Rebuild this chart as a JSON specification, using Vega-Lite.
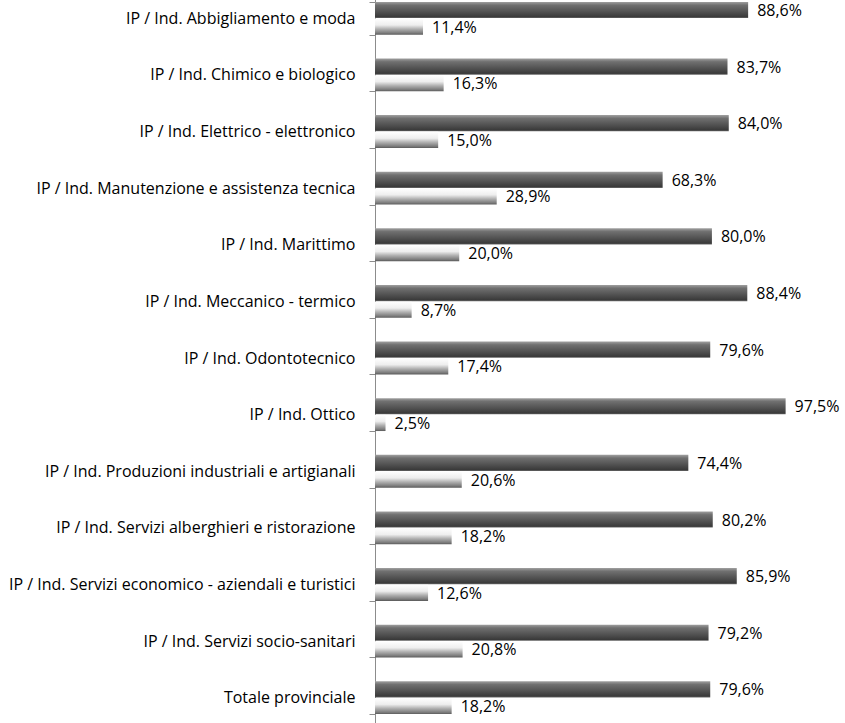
{
  "$schema": "https://vega.github.io/schema/vega-lite/v6.json",
  "width": 470,
  "height": 736,
  "autosize": {"type": "none"},
  "padding": {"left": 375, "top": -10, "right": 0, "bottom": 0},
  "background": "white",
  "config": {"view": {"stroke": null}},
  "data": {"values": [
    {"cat": "IP / Ind. Abbigliamento e moda", "s": "a", "v": 88.6},
    {"cat": "IP / Ind. Abbigliamento e moda", "s": "b", "v": 11.4},
    {"cat": "IP / Ind. Chimico e biologico", "s": "a", "v": 83.7},
    {"cat": "IP / Ind. Chimico e biologico", "s": "b", "v": 16.3},
    {"cat": "IP / Ind. Elettrico - elettronico", "s": "a", "v": 84.0},
    {"cat": "IP / Ind. Elettrico - elettronico", "s": "b", "v": 15.0},
    {"cat": "IP / Ind. Manutenzione e assistenza tecnica", "s": "a", "v": 68.3},
    {"cat": "IP / Ind. Manutenzione e assistenza tecnica", "s": "b", "v": 28.9},
    {"cat": "IP / Ind. Marittimo", "s": "a", "v": 80.0},
    {"cat": "IP / Ind. Marittimo", "s": "b", "v": 20.0},
    {"cat": "IP / Ind. Meccanico - termico", "s": "a", "v": 88.4},
    {"cat": "IP / Ind. Meccanico - termico", "s": "b", "v": 8.7},
    {"cat": "IP / Ind. Odontotecnico", "s": "a", "v": 79.6},
    {"cat": "IP / Ind. Odontotecnico", "s": "b", "v": 17.4},
    {"cat": "IP / Ind. Ottico", "s": "a", "v": 97.5},
    {"cat": "IP / Ind. Ottico", "s": "b", "v": 2.5},
    {"cat": "IP / Ind. Produzioni industriali e artigianali", "s": "a", "v": 74.4},
    {"cat": "IP / Ind. Produzioni industriali e artigianali", "s": "b", "v": 20.6},
    {"cat": "IP / Ind. Servizi alberghieri e ristorazione", "s": "a", "v": 80.2},
    {"cat": "IP / Ind. Servizi alberghieri e ristorazione", "s": "b", "v": 18.2},
    {"cat": "IP / Ind. Servizi economico - aziendali e turistici", "s": "a", "v": 85.9},
    {"cat": "IP / Ind. Servizi economico - aziendali e turistici", "s": "b", "v": 12.6},
    {"cat": "IP / Ind. Servizi socio-sanitari", "s": "a", "v": 79.2},
    {"cat": "IP / Ind. Servizi socio-sanitari", "s": "b", "v": 20.8},
    {"cat": "Totale provinciale", "s": "a", "v": 79.6},
    {"cat": "Totale provinciale", "s": "b", "v": 18.2}
  ]},
  "transform": [
    {"calculate": "replace(format(datum.v, '.1f'), '.', ',') + '%'", "as": "lbl"}
  ],
  "encoding": {
    "y": {
      "field": "cat", "type": "nominal", "sort": null,
      "scale": {"paddingInner": 0.42, "paddingOuter": 0.21},
      "axis": {
        "title": null, "labelFont": "Open Sans", "labelFontSize": 16, "labelColor": "#000000",
        "labelPadding": 14, "tickBand": "extent", "tickSize": 6, "tickColor": "#8c8c8c",
        "domainColor": "#8c8c8c", "labelLimit": 400, "grid": false
      }
    },
    "yOffset": {"field": "s", "type": "nominal", "scale": {"domain": ["a", "b"], "paddingInner": 0.03}},
    "x": {"field": "v", "type": "quantitative", "scale": {"domain": [0, 111.6], "nice": false}, "axis": null}
  },
  "layer": [
    {
      "transform": [{"filter": "datum.s === 'a'"}],
      "mark": {
        "type": "bar",
        "color": {
          "gradient": "linear", "x1": 0, "y1": 0, "x2": 0, "y2": 1,
          "stops": [
            {"offset": 0, "color": "#a0a0a0"},
            {"offset": 0.2, "color": "#707070"},
            {"offset": 0.6, "color": "#525252"},
            {"offset": 0.92, "color": "#3a3a3a"},
            {"offset": 1, "color": "#6a6a6a"}
          ]
        }
      }
    },
    {
      "transform": [{"filter": "datum.s === 'b'"}],
      "mark": {
        "type": "bar",
        "color": {
          "gradient": "linear", "x1": 0, "y1": 0, "x2": 0, "y2": 1,
          "stops": [
            {"offset": 0, "color": "#ffffff"},
            {"offset": 0.4, "color": "#eeeeee"},
            {"offset": 0.65, "color": "#b0b0b0"},
            {"offset": 0.9, "color": "#7a7a7a"},
            {"offset": 1, "color": "#5a5a5a"}
          ]
        }
      }
    },
    {
      "mark": {"type": "text", "align": "left", "baseline": "middle", "dx": 9, "dy": 1, "font": "Open Sans", "fontSize": 16, "color": "#000000"},
      "encoding": {"text": {"field": "lbl"}}
    }
  ]
}
